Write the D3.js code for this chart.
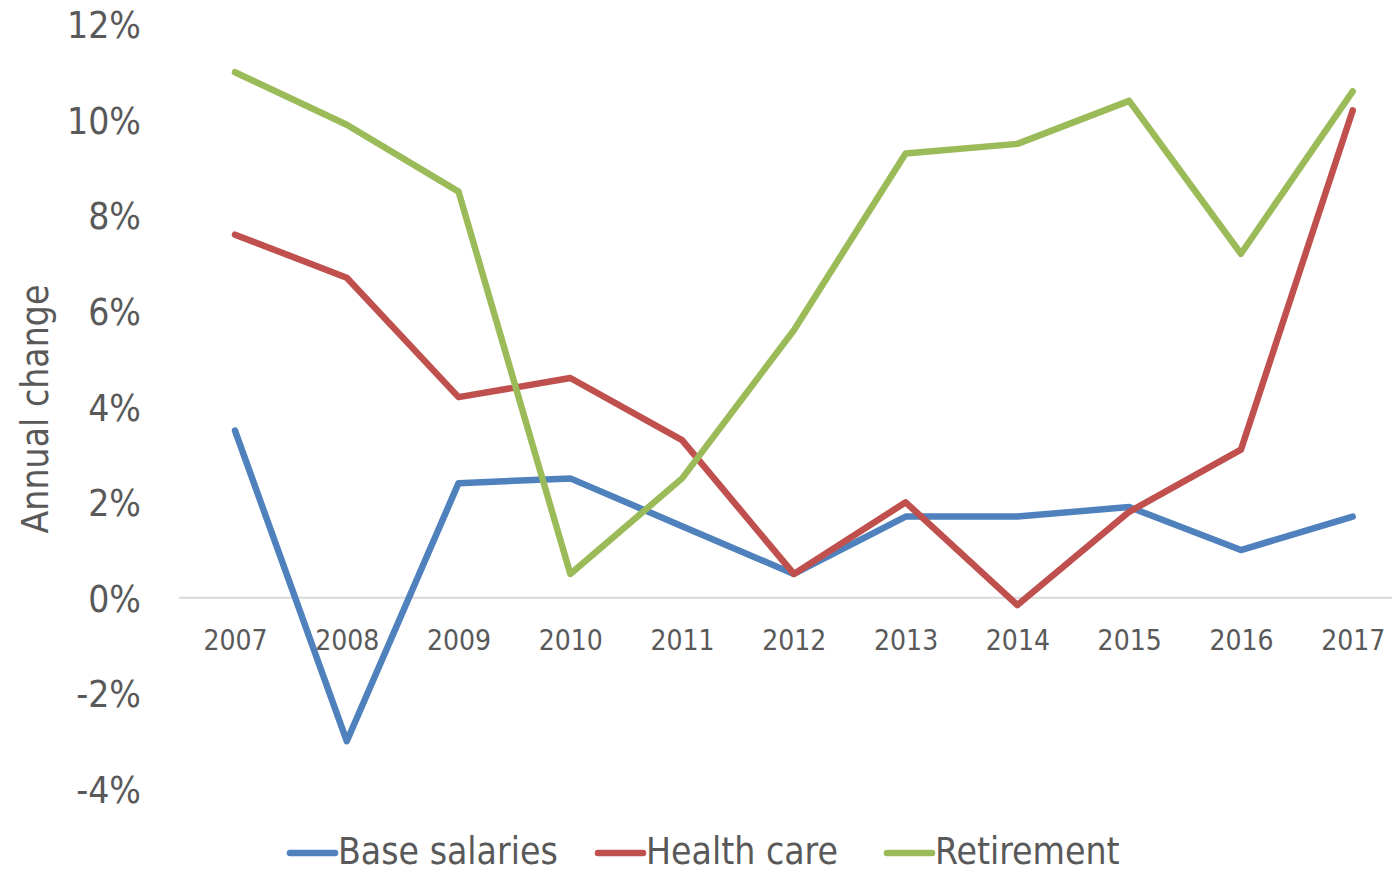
<!DOCTYPE html>
<html>
<head>
<meta charset="utf-8">
<script src="https://cdn.jsdelivr.net/npm/d3@7"></script>
<style>
  body { margin: 0; background: #fff; }
  svg text { font-family: "Liberation Sans Narrow", "DejaVu Sans Condensed", "Roboto", sans-serif; fill: #595959; }
</style>
</head>
<body>
<div id="chart"></div>
<script>
const years = ["2007", "2008", "2009", "2010", "2011", "2012", "2013", "2014", "2015", "2016", "2017"];
const baseSalaries = [3.5, -3.0, 2.4, 2.5, 1.5, 0.5, 1.7, 1.7, 1.9, 1.0, 1.7];
const healthCare = [7.6, 6.7, 4.2, 4.6, 3.3, 0.5, 2.0, -0.15, 1.8, 3.1, 10.2];
const retirement = [11.0, 9.9, 8.5, 0.5, 2.5, 5.6, 9.3, 9.5, 10.4, 7.2, 10.6];
const yTicks = [-4, -2, 0, 2, 4, 6, 8, 10, 12];

const series = [
    { name: "Base salaries", values: baseSalaries, color: "#4F81BD" },
    { name: "Health care", values: healthCare, color: "#C0504D" },
    { name: "Retirement", values: retirement, color: "#9BBB59" }
];

const width = 1392, height = 873;

const svg = d3.select("#chart").append("svg")
    .attr("width", width)
    .attr("height", height);

const x = d3.scalePoint()
    .domain(years)
    .range([235, 1352.7]);

const y = d3.scaleLinear()
    .domain([-4, 12])
    .range([789, 24.4]);

// zero line
svg.append("line")
    .attr("x1", x(years[0]) - x.step() / 2)
    .attr("x2", x(years[years.length - 1]) + x.step() / 2)
    .attr("y1", y(0))
    .attr("y2", y(0))
    .attr("stroke", "#D9D9D9")
    .attr("stroke-width", 2);

// y axis labels
const yAxis = svg.append("g")
    .attr("transform", "translate(141,0)")
    .call(d3.axisLeft(y).tickValues(yTicks).tickSize(0).tickFormat(d => d + "%"));
yAxis.select(".domain").remove();
yAxis.selectAll("text")
    .attr("x", 0)
    .attr("dy", "0.36em")
    .style("font-size", "37px");

// x axis labels
const xAxis = svg.append("g")
    .attr("transform", "translate(0," + y(0) + ")")
    .call(d3.axisBottom(x).tickSize(0));
xAxis.select(".domain").remove();
xAxis.selectAll("text")
    .attr("y", 52)
    .attr("dy", "0")
    .style("font-size", "28px");

// axis title
svg.append("text")
    .attr("transform", "translate(48," + 409 + ") rotate(-90)")
    .attr("text-anchor", "middle")
    .style("font-size", "37px")
    .text("Annual change");

const line = d3.line()
    .x((d, i) => x(years[i]))
    .y(d => y(d));

series.forEach(s => {
    svg.append("path")
        .datum(s.values)
        .attr("fill", "none")
        .attr("stroke", s.color)
        .attr("stroke-width", 6.5)
        .attr("stroke-linejoin", "round")
        .attr("stroke-linecap", "round")
        .attr("d", line);
});

// legend
const legendX = [290, 598, 887];
series.forEach((s, i) => {
    const g = svg.append("g").attr("transform", "translate(" + legendX[i] + ",853)");
    g.append("line")
        .attr("x1", 0).attr("x2", 45)
        .attr("stroke", s.color)
        .attr("stroke-width", 6.5)
        .attr("stroke-linecap", "round");
    g.append("text")
        .attr("x", 48)
        .attr("y", 11)
        .style("font-size", "37px")
        .text(s.name);
});
</script>
</body>
</html>
